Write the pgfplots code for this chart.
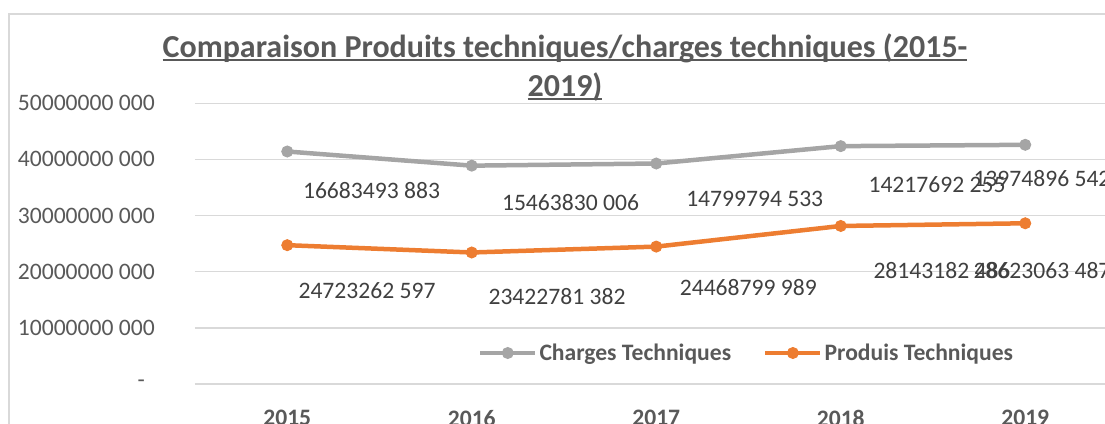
\documentclass[border=0pt]{standalone}
\usepackage{fontspec}
\setmainfont{Carlito}
\usepackage{pgfplots}
\pgfplotsset{compat=1.18}
\definecolor{cgray}{HTML}{A5A5A5}
\definecolor{corange}{HTML}{ED7D31}
\definecolor{gridc}{HTML}{D9D9D9}
\definecolor{txt}{HTML}{595959}
\definecolor{lbl}{HTML}{404040}
\newcommand\ulx[1]{\setbox0\hbox{#1}\rlap{\rule[-3.5pt]{\wd0}{2pt}}\box0}
\begin{document}
\begin{tikzpicture}
\draw[gridc, line width=1.5pt] (-186pt,-100pt) rectangle (926pt,370pt);
\begin{axis}[
  scale only axis, width=922.5pt, height=280.75pt,
  xmin=-0.5, xmax=4.5, ymin=0, ymax=5e10,
  xtick={0,1,2,3,4}, xticklabels={2015,2016,2017,2018,2019},
  ytick={0,1e10,2e10,3e10,4e10,5e10},
  scaled y ticks=false,
  yticklabels={{-\hspace*{10pt}},10000000 000,20000000 000,30000000 000,40000000 000,50000000 000},
  axis line style={draw=none},
  major tick length=0pt,
  ymajorgrids, major grid style={draw=gridc, line width=1.5pt},
  yticklabel style={anchor=east, inner sep=0pt, xshift=-40pt, font=\fontsize{23.6}{28}\selectfont, text=txt},
  xticklabel style={anchor=north, inner sep=0pt, yshift=-26pt, font=\fontsize{23.6}{28}\selectfont\bfseries, text=txt},
  stack plots=y,
  reverse legend,
  legend columns=2,
  legend style={at={(0.3068,0.1104)}, anchor=west, draw=none, fill=none, inner sep=0pt, outer sep=0pt,
     font=\fontsize{23.6}{28}\selectfont\bfseries, text=txt,
     /tikz/every even column/.append style={column sep=30pt}},
  legend image code/.code={\draw[#1, mark repeat=2, mark phase=2] plot coordinates {(0pt,0pt) (27.5pt,0pt) (55pt,0pt)};},
  clip=false,
]
\addplot[corange, line width=4.5pt, mark=*, mark size=5.5pt, mark options={solid, line width=1pt}] coordinates {(0,24723262597) (1,23422781382) (2,24468799989) (3,28143182486) (4,28623063487)};
\addlegendentry{Produis Techniques}
\addplot[cgray, line width=4.5pt, mark=*, mark size=5.5pt, mark options={solid, line width=1pt}] coordinates {(0,16683493883) (1,15463830006) (2,14799794533) (3,14217692255) (4,13974896542)};
\addlegendentry{Charges Techniques}
\end{axis}
\begin{scope}[every node/.style={font=\fontsize{23.6}{28}\selectfont, text=lbl, inner sep=0pt}]
\node at (176.5pt,193.5pt) {16683493 883};
\node at (375.5pt,181pt) {15463830 006};
\node at (559.7pt,185pt) {14799794 533};
\node at (742pt,199.5pt) {14217692 255};
\node[anchor=west] at (778.3pt,205.3pt) {13974896 542};
\node at (172pt,93.5pt) {24723262 597};
\node at (362pt,87pt) {23422781 382};
\node at (553.3pt,96pt) {24468799 989};
\node[anchor=west] at (678.3pt,113pt) {28143182 486};
\node[anchor=west] at (778.3pt,113pt) {28623063 487};
\end{scope}
\node[anchor=base, font=\fontsize{32}{38}\selectfont\bfseries, text=txt, inner sep=0pt] at (370pt,326pt) {\ulx{Comparaison Produits techniques/charges techniques (2015-}};
\node[anchor=base, font=\fontsize{32}{38}\selectfont\bfseries, text=txt, inner sep=0pt] at (370pt,287.3pt) {\ulx{2019)}};
\pgfresetboundingbox
\useasboundingbox (-195pt,-39pt) rectangle (910pt,384pt);
\end{tikzpicture}
\end{document}
